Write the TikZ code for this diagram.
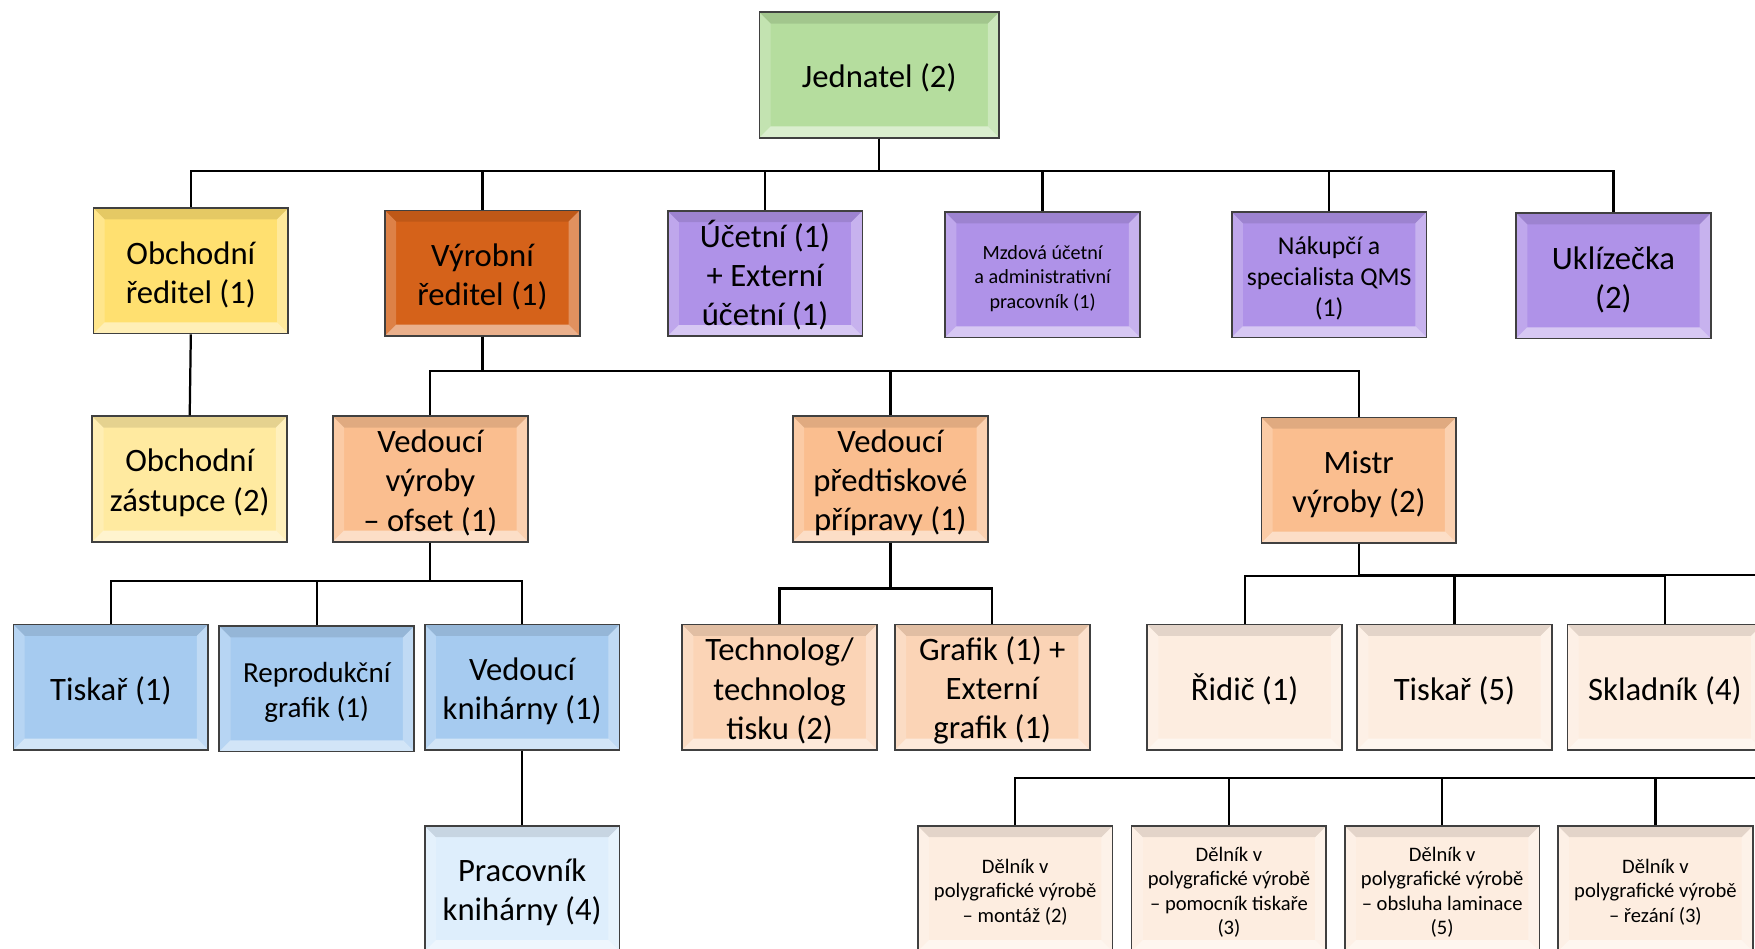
\documentclass[tikz,border=0pt]{standalone}
\usepackage{fontspec}
\setmainfont{Carlito}
\usetikzlibrary{calc}

\definecolor{boss}{RGB}{181,221,158}
\definecolor{sales}{RGB}{255,224,112}
\definecolor{salesl}{RGB}{255,234,160}
\definecolor{prod}{RGB}{213,98,26}
\definecolor{office}{RGB}{175,146,232}
\definecolor{lead}{RGB}{250,190,143}
\definecolor{prep}{RGB}{251,212,182}
\definecolor{shop}{RGB}{253,237,224}
\definecolor{bind}{RGB}{166,203,240}
\definecolor{bindl}{RGB}{222,238,252}

\tikzset{
  bevel/.style={path picture={
    \coordinate (bl) at (path picture bounding box.south west);
    \coordinate (br) at (path picture bounding box.south east);
    \coordinate (tl) at (path picture bounding box.north west);
    \coordinate (tr) at (path picture bounding box.north east);
    \fill[black,opacity=.1] (tl) -- (tr) -- ([shift={(-5pt,-5pt)}]tr) -- ([shift={(5pt,-5pt)}]tl) -- cycle;
    \fill[white,opacity=.5] (bl) -- (br) -- ([shift={(-5pt,5pt)}]br) -- ([shift={(5pt,5pt)}]bl) -- cycle;
    \fill[white,opacity=.2] (tl) -- (bl) -- ([shift={(5pt,5pt)}]bl) -- ([shift={(5pt,-5pt)}]tl) -- cycle;
    \fill[white,opacity=.3] (tr) -- (br) -- ([shift={(-5pt,5pt)}]br) -- ([shift={(-5pt,-5pt)}]tr) -- cycle;
  }},
  nlines/.style={execute at begin node={\rule{0pt}{\dimexpr #1\baselineskip-\baselineskip+.75em+2.6pt\relax}}},
  role/.style={draw=black!75, line width=.8pt, fill=#1, bevel, align=center,
    minimum width=87pt, minimum height=56pt, inner sep=1pt, nlines=1},
  smalltxt/.style={font=\fontsize{9}{11}\selectfont},
  midtxt/.style={font=\fontsize{11.5}{13.8}\selectfont},
  worktxt/.style={font=\fontsize{9.2}{10.9}\selectfont},
  link/.style={line width=1pt},
}

\begin{document}
\begin{tikzpicture}[x=0.5pt,y=-0.5pt,every node/.style={font=\fontsize{14.6}{17.6}\selectfont}]
  \useasboundingbox (0,0) rectangle (1568,847);
  \clip (0,0) rectangle (1568,847);

  \node[role=boss,minimum width=107pt] (jed) at (785.5,67) {Jednatel (2)};

  \node[role=sales,nlines=2] (obr) at (170.5,242) {Obchodní\\ředitel (1)};
  \node[role=prod,nlines=2] (vyr) at (431,244) {Výrobní\\ředitel (1)};
  \node[role=office,nlines=3] (uce) at (683.5,244.5) {Účetní (1)\\+ Externí\\účetní (1)};
  \node[role=office,smalltxt,nlines=3] (mzd) at (931.5,245.5) {Mzdová účetní\\a administrativní\\pracovník (1)};
  \node[role=office,midtxt,nlines=3] (nak) at (1187.5,245.5) {Nákupčí a\\specialista QMS\\(1)};
  \node[role=office,nlines=2] (ukl) at (1441.5,246.5) {Uklízečka\\(2)};

  \node[role=salesl,nlines=2] (ozs) at (169.5,428) {Obchodní\\zástupce (2)};
  \node[role=lead,nlines=3] (vvo) at (384.5,428) {Vedoucí\\výroby\\– ofset (1)};
  \node[role=lead,nlines=3] (vpp) at (795.5,428) {Vedoucí\\předtiskové\\přípravy (1)};
  \node[role=lead,nlines=2] (mis) at (1214,429) {Mistr\\výroby (2)};

  \node[role=bind] (tis1) at (99,614) {Tiskař (1)};
  \node[role=bind,font=\fontsize{13}{15.6}\selectfont,nlines=2] (rep) at (283,615.5) {Reprodukční\\grafik (1)};
  \node[role=bind,nlines=2] (vkn) at (466.5,614) {Vedoucí\\knihárny (1)};
  \node[role=bindl,nlines=2] (pkn) at (466.5,794) {Pracovník\\knihárny (4)};

  \node[role=prep,nlines=3] (tec) at (696.5,614) {Technolog/\\technolog\\tisku (2)};
  \node[role=prep,nlines=3] (gra) at (886.5,614) {Grafik (1) +\\Externí\\grafik (1)};

  \node[role=shop] (rid) at (1112,614) {Řidič (1)};
  \node[role=shop] (tis5) at (1299.5,614) {Tiskař (5)};
  \node[role=shop] (skl) at (1487.5,614) {Skladník (4)};

  \node[role=shop,worktxt,nlines=3] (d1) at (907,794) {Dělník v\\polygrafické výrobě\\– montáž (2)};
  \node[role=shop,worktxt,nlines=4] (d2) at (1098,794) {Dělník v\\polygrafické výrobě\\– pomocník tiskaře\\(3)};
  \node[role=shop,worktxt,nlines=4] (d3) at (1288.5,794) {Dělník v\\polygrafické výrobě\\– obsluha laminace\\(5)};
  \node[role=shop,worktxt,nlines=3] (d4) at (1479,794) {Dělník v\\polygrafické výrobě\\– řezání (3)};

  \coordinate (mbus) at (1600,514);
  \coordinate (dbus) at (1600,695);

  \foreach \n in {obr,vyr,uce,mzd,nak,ukl}
    \draw[link] (jed.south) -- ++(0,29) -| (\n.north);
  \draw[link] (obr.south) -- (ozs.north);
  \foreach \n in {vvo,vpp,mis}
    \draw[link] (vyr.south) -- ++(0,31) -| (\n.north);
  \foreach \n in {tis1,rep,vkn}
    \draw[link] (vvo.south) -- ++(0,34) -| (\n.north);
  \draw[link] (vkn.south) -- (pkn.north);
  \foreach \n in {tec,gra}
    \draw[link] (vpp.south) -- ++(0,41) -| (\n.north);
  \foreach \n in {rid,tis5,skl}
    \draw[link] (mis.south) -- ++(0,29) -| (\n.north);
  \draw[link] (mis.south) |- (mbus);
  \foreach \n in {d1,d2,d3,d4}
    \draw[link] (dbus) -| (\n.north);
\end{tikzpicture}
\end{document}
